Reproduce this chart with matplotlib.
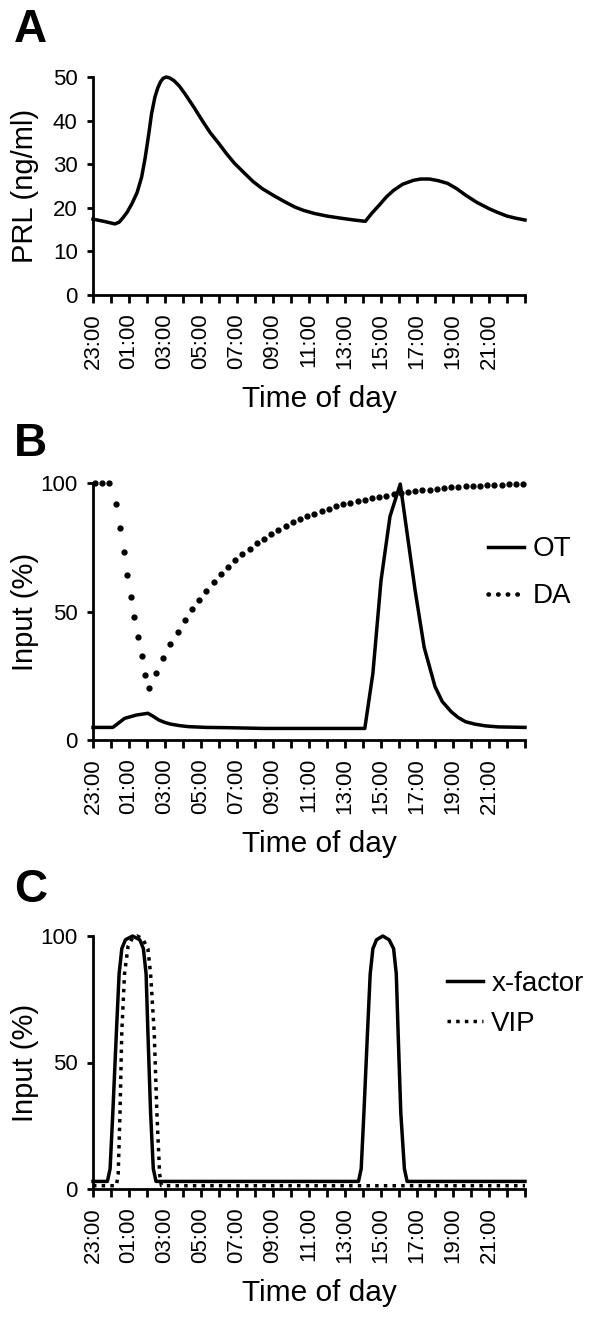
import numpy as np
import matplotlib
matplotlib.use("Agg")
import matplotlib.pyplot as plt
from matplotlib.lines import Line2D

plt.rcParams['font.family'] = ['Liberation Sans', 'DejaVu Sans']

#------------------------------------------------------data
# time axis: hours after 23:00
hour_ticks = list(range(25))
hour_labels = ["23:00", "", "01:00", "", "03:00", "", "05:00", "", "07:00", "", "09:00", "",
               "11:00", "", "13:00", "", "15:00", "", "17:00", "", "19:00", "", "21:00", "", ""]

# panel A: prolactin
prl_t = [0, 0.6, 1.22, 1.45, 1.64, 1.9, 2.17, 2.45, 2.7, 2.9, 3.1, 3.25, 3.44, 3.6, 3.75, 3.9, 4.07,
         4.25, 4.49, 4.8, 5.1, 5.6, 6.07, 6.5, 7.0, 7.4, 7.86, 8.4, 8.9, 9.4, 10.0, 10.6, 11.2,
         11.7, 12.3, 13.0, 13.8, 14.5, 15.13, 15.5, 15.9, 16.3, 16.7, 17.2, 17.8, 18.2, 18.7, 19.2,
         19.7, 20.2, 20.7, 21.3, 22.0, 22.5, 23.0, 23.5, 24.0]
prl = [17.4, 16.9, 16.3, 16.7, 17.6, 19.0, 21, 23.5, 27, 31.5, 37, 41.5, 45.4, 47.5, 48.9, 49.7, 50,
       49.8, 49.2, 47.9, 46.2, 43.1, 40, 37.3, 34.7, 32.5, 30.2, 28.0, 26, 24.4, 22.9, 21.5, 20.2,
       19.4, 18.7, 18.1, 17.6, 17.2, 16.9, 18.8, 20.6, 22.5, 24, 25.4, 26.3, 26.6, 26.6, 26.2,
       25.6, 24.4, 22.9, 21.3, 19.8, 18.9, 18.1, 17.6, 17.2]

# panel B: oxytocin (solid) and dopamine (dots)
ot_t = [0, 1.1, 1.4, 1.75, 2.4, 3.05, 3.35, 3.65, 4.0, 4.3, 4.8, 5.3, 6.3, 7.4, 9.5, 15.1,
        15.55, 16.0, 16.5, 17.07, 17.45, 17.9, 18.4, 19.0, 19.4, 19.9, 20.3, 20.7, 21.2, 21.8, 22.5, 24.0]
ot = [4.9, 4.9, 6.5, 8.4, 9.7, 10.4, 9.2, 7.8, 6.8, 6.2, 5.6, 5.2, 4.9, 4.8, 4.5, 4.5,
      26, 62, 87, 99.6, 80.5, 58, 36, 20.8, 15, 11, 8.7, 7.1, 6.2, 5.5, 5.1, 4.9]

da_t = [0.1, 0.5, 0.9, 1.3, 1.5, 1.7, 1.9, 2.1, 2.3, 2.5, 2.7, 2.9, 3.1,
        3.5, 3.9, 4.3, 4.7, 5.1, 5.5, 5.9, 6.3, 6.7, 7.1, 7.5, 7.9, 8.3, 8.7, 9.1, 9.5, 9.9,
        10.3, 10.7, 11.1, 11.5, 11.9, 12.3, 12.7, 13.1, 13.5, 13.9, 14.3, 14.7, 15.1, 15.5,
        15.9, 16.3, 16.7, 17.1, 17.5, 17.9, 18.3, 18.7, 19.1, 19.5, 19.9, 20.3, 20.7, 21.1,
        21.5, 21.9, 22.3, 22.7, 23.1, 23.5, 23.9]
da = [100, 100, 100, 91.8, 82.5, 73, 64.3, 55.8, 47.8, 40, 32.5, 25.3, 20.1,
      26.2, 32, 37.4, 42, 46.8, 50.8, 54.5, 58, 61.4, 64.7, 67.3, 69.9, 72.4, 74.5, 76.5, 78.3, 80.1,
      81.7, 83.3, 84.7, 86.0, 87.1, 88.1, 89.1, 90.0, 90.9, 91.7, 92.3, 93.0, 93.5, 94.0,
      94.5, 95.1, 95.7, 96.1, 96.5, 96.8, 97.1, 97.4, 97.8, 98.1, 98.3, 98.6, 98.7, 98.8,
      99.0, 99.1, 99.2, 99.4, 99.5, 99.6, 99.6]

# panel C: x-factor (solid) and VIP (dotted)
xf_t = [0, 0.8, 0.95, 1.1, 1.3, 1.45, 1.6, 1.8, 2.2, 2.6, 2.8, 2.95, 3.05, 3.2, 3.35, 3.5,
        14.75, 14.9, 15.05, 15.25, 15.4, 15.55, 15.75, 16.1, 16.45, 16.7, 16.85, 16.95, 17.1, 17.3, 17.45, 24.0]
xf = [3, 3, 8, 30, 62, 85, 95, 98.5, 100, 98.5, 95, 85, 62, 30, 8, 3,
      3, 8, 30, 62, 85, 95, 98.5, 100, 98.5, 95, 85, 62, 30, 8, 3, 3]

vip_t = [0, 1.3, 1.4, 1.5, 1.6, 1.75, 1.95, 2.2, 2.45, 2.75, 3.05, 3.2, 3.4, 3.55, 3.7, 3.8, 24.0]
vip = [1.3, 1.3, 6, 30, 62, 85, 96, 99.3, 100, 99, 95, 85, 62, 30, 6, 1.3, 1.3]

#------------------------------------------------------figure
W, H = 592, 1322
fig = plt.figure(figsize=(W / 100, H / 100), dpi=100)
LW = 2.5

def axes_px(left, top, right, bottom):
    return fig.add_axes([left / W, 1 - bottom / H, (right - left) / W, (bottom - top) / H])

def style(ax, ymax, yticks, ylabel):
    for s in ["top", "right"]:
        ax.spines[s].set_visible(False)
    for s in ["left", "bottom"]:
        ax.spines[s].set_linewidth(2)
    ax.set_xlim(0, 24)
    ax.set_ylim(0, ymax)
    ax.set_xticks(hour_ticks)
    ax.set_xticklabels(hour_labels, rotation=90, fontsize=16)
    ax.set_yticks(yticks)
    ax.tick_params(axis="x", length=6, width=2, pad=7)
    ax.tick_params(axis="y", length=4, width=2, pad=7, labelsize=16)
    ax.set_ylabel(ylabel, fontsize=21)
    ax.yaxis.set_label_coords(-0.125, 0.5)
    ax.set_xlabel("Time of day", fontsize=21.5, labelpad=12)
    ax.xaxis.label.set_x(0.525)

#------------------------------------------------------panel A
axA = axes_px(93, 77, 525, 295)
axA.plot(prl_t, prl, color="k", lw=LW, clip_on=False)
style(axA, 50, [0, 10, 20, 30, 40, 50], "PRL (ng/ml)")

#------------------------------------------------------panel B
axB = axes_px(93, 483, 525, 740)
axB.plot(ot_t, ot, color="k", lw=LW, clip_on=False)
axB.plot(da_t, da, color="k", ls="none", marker="o", ms=3.5, clip_on=False)
style(axB, 100, [0, 50, 100], "Input (%)")
handlesB = [Line2D([], [], color="k", lw=LW),
            Line2D([], [], color="k", lw=3.3, ls=(0, (0.1, 2.0)), dash_capstyle="round")]
axB.legend(handlesB, ["OT", "DA"], loc="upper left", bbox_to_anchor=(0.914, 0.792),
           frameon=False, fontsize=20, handlelength=1.3, handletextpad=0.3,
           borderpad=0, borderaxespad=0, labelspacing=0.75)

#------------------------------------------------------panel C
axC = axes_px(93, 936, 525, 1189)
axC.plot(xf_t, xf, color="k", lw=LW, clip_on=False)
axC.plot(vip_t, vip, color="k", lw=LW, ls=(0, (1, 1.5)), clip_on=False)
style(axC, 100, [0, 50, 100], "Input (%)")
handlesC = [Line2D([], [], color="k", lw=LW),
            Line2D([], [], color="k", lw=LW, ls=(0, (1, 1.5)))]
axC.legend(handlesC, ["x-factor", "VIP"], loc="upper left", bbox_to_anchor=(0.819, 0.861),
           frameon=False, fontsize=20, handlelength=1.3, handletextpad=0.3,
           borderpad=0, borderaxespad=0, labelspacing=0.5)

#------------------------------------------------------panel letters
for letter, base in [("A", 42), ("B", 456), ("C", 902)]:
    fig.text(14 / W, 1 - base / H, letter, fontsize=33, fontweight="bold", va="baseline")

fig.savefig("out.png", dpi=100)
